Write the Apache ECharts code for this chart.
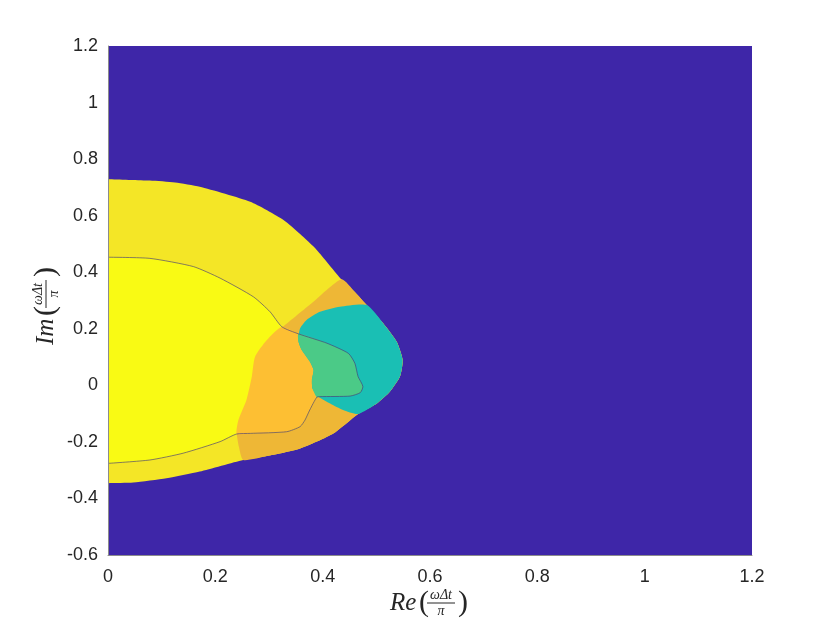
<!DOCTYPE html>
<html>
<head>
<meta charset="utf-8">
<script src="https://cdn.jsdelivr.net/npm/echarts@6/dist/echarts.min.js"></script>
<style>
  html, body { margin: 0; padding: 0; background: #fff; }
  #chart { width: 830px; height: 624px; }
</style>
</head>
<body>
<div id="chart"></div>
<script>
// axis ticks
const xTicks = [0, 0.2, 0.4, 0.6, 0.8, 1, 1.2]
const yTicks = [-0.6, -0.4, -0.2, 0, 0.2, 0.4, 0.6, 0.8, 1, 1.2]

// region boundaries, [Re, Im]
const bgRegion = [[0, -0.6], [1.2, -0.6], [1.2, 1.2], [0, 1.2]]

// outer envelope (light yellow band)
const envelope = [
  [0, 0.729], [0.078, 0.724], [0.125, 0.717], [0.171, 0.702], [0.265, 0.649], [0.327, 0.585],
  [0.358, 0.535], [0.389, 0.479], [0.435, 0.375], [0.460, 0.330], [0.482, 0.284],
  [0.513, 0.219], [0.538, 0.154], [0.549, 0.090], [0.544, 0.031], [0.525, -0.023],
  [0.501, -0.064], [0.466, -0.101], [0.420, -0.170], [0.358, -0.223], [0.296, -0.250],
  [0.252, -0.264], [0.171, -0.305], [0.109, -0.329], [0.047, -0.344], [0, -0.346],
  [-0.02, -0.346], [-0.02, 0.729]
]

// darker orange part of the envelope
const orangeOuter = [
  [0.435, 0.375], [0.460, 0.330], [0.482, 0.284], [0.513, 0.219], [0.538, 0.154],
  [0.549, 0.090], [0.544, 0.031], [0.525, -0.023], [0.501, -0.064], [0.466, -0.101],
  [0.420, -0.170], [0.358, -0.223], [0.296, -0.250], [0.252, -0.264], [0.244, -0.218],
  [0.240, -0.170], [0.243, -0.123], [0.258, -0.052], [0.268, 0.031], [0.274, 0.101],
  [0.296, 0.160], [0.326, 0.207], [0.380, 0.291]
]

// inner contour (thin line)
const contour = [
  [0, 0.453], [0.078, 0.449], [0.159, 0.420], [0.209, 0.379], [0.271, 0.313], [0.302, 0.260],
  [0.324, 0.207], [0.355, 0.182], [0.408, 0.149], [0.448, 0.113], [0.460, 0.078],
  [0.466, 0.031], [0.475, -0.005], [0.470, -0.026], [0.451, -0.038], [0.395, -0.040],
  [0.389, -0.042], [0.376, -0.087], [0.367, -0.123], [0.358, -0.146], [0.333, -0.164],
  [0.265, -0.170], [0.240, -0.172], [0.209, -0.199], [0.140, -0.240], [0.078, -0.264],
  [0, -0.276]
]
const contourClosing = [[-0.02, -0.276], [-0.02, 0.453]]

// light orange: inside contour, right of the yellow/orange edge
const orangeInner = [
  [0.324, 0.207], [0.355, 0.182], [0.408, 0.149], [0.448, 0.113], [0.460, 0.078],
  [0.466, 0.031], [0.475, -0.005], [0.470, -0.026], [0.451, -0.038], [0.395, -0.040],
  [0.389, -0.042], [0.376, -0.087], [0.367, -0.123], [0.358, -0.146], [0.333, -0.164],
  [0.265, -0.170], [0.240, -0.172], [0.243, -0.123], [0.258, -0.052], [0.268, 0.031],
  [0.274, 0.101], [0.296, 0.160]
]

// teal blob
const teal = [
  [0.355, 0.172], [0.358, 0.202], [0.370, 0.231], [0.395, 0.260], [0.432, 0.278],
  [0.482, 0.284], [0.513, 0.219], [0.538, 0.154], [0.549, 0.090], [0.544, 0.031],
  [0.525, -0.023], [0.501, -0.064], [0.466, -0.101], [0.438, -0.087], [0.414, -0.064],
  [0.392, -0.040], [0.381, -0.011], [0.380, 0.019], [0.383, 0.054], [0.376, 0.084],
  [0.361, 0.125], [0.355, 0.154]
]

// green: teal inside the contour
const green = [
  [0.355, 0.182], [0.408, 0.149], [0.448, 0.113], [0.460, 0.078], [0.466, 0.031],
  [0.475, -0.005], [0.470, -0.026], [0.451, -0.038], [0.395, -0.040], [0.389, -0.042],
  [0.381, -0.011], [0.380, 0.019], [0.383, 0.054], [0.376, 0.084], [0.361, 0.125],
  [0.355, 0.154]
]

const chart = echarts.init(document.getElementById('chart'))

const polySeries = (pts, color, smooth) => ({
  type: 'custom',
  data: pts,
  encode: { x: 0, y: 1 },
  silent: true,
  clip: true,
  renderItem: (params, api) => {
    if (params.dataIndex !== 0) return null
    return {
      type: 'polygon',
      shape: { points: pts.map((p) => api.coord(p)), smooth: smooth },
      style: { fill: color, stroke: null },
    }
  },
})

const labelFont = {
  color: '#262626',
  fontSize: 18,
  fontFamily: 'Liberation Sans, Arial, sans-serif',
}

// latex-like axis title: prefix( num/den )
const mathTitle = (prefix) => [
  { type: 'text', x: 0, y: 0, style: { text: prefix, font: 'italic 25px "Liberation Serif", serif', fill: '#262626', verticalAlign: 'middle' } },
  { type: 'text', x: 29, y: 0, style: { text: '(', font: '30px "Liberation Serif", serif', fill: '#262626', verticalAlign: 'middle' } },
  { type: 'text', x: 51, y: -8, style: { text: 'ωΔt', font: 'italic 14px "Liberation Serif", serif', fill: '#262626', align: 'center', verticalAlign: 'middle' } },
  { type: 'line', shape: { x1: 37, y1: 0, x2: 65, y2: 0 }, style: { stroke: '#262626', lineWidth: 1 } },
  { type: 'text', x: 51, y: 8, style: { text: 'π', font: 'italic 14px "Liberation Serif", serif', fill: '#262626', align: 'center', verticalAlign: 'middle' } },
  { type: 'text', x: 68, y: 0, style: { text: ')', font: '30px "Liberation Serif", serif', fill: '#262626', verticalAlign: 'middle' } },
]

const option = {
  backgroundColor: '#ffffff',
  animation: false,
  grid: { left: 108, right: 78, top: 46, bottom: 69 },
  xAxis: {
    type: 'value',
    min: xTicks[0],
    max: xTicks[xTicks.length - 1],
    interval: 0.2,
    z: 10,
    axisLine: { show: true, onZero: false, lineStyle: { color: '#8c8c8c', width: 1 } },
    axisTick: { show: false },
    splitLine: { show: false },
    axisLabel: { ...labelFont, margin: 13 },
  },
  yAxis: {
    type: 'value',
    min: yTicks[0],
    max: yTicks[yTicks.length - 1],
    interval: 0.2,
    z: 10,
    axisLine: { show: true, onZero: false, lineStyle: { color: '#8c8c8c', width: 1 } },
    axisTick: { show: false },
    splitLine: { show: false },
    axisLabel: { ...labelFont, margin: 10 },
  },
  graphic: [
    { type: 'group', x: 390, y: 603, children: mathTitle('Re') },
    { type: 'group', x: 46, y: 345, rotation: Math.PI / 2, children: mathTitle('Im') },
  ],
  series: [
    polySeries(bgRegion, '#3E26A8', 0),
    polySeries(envelope, '#F4E626', 0.2),
    polySeries(orangeOuter, '#EEB736', 0.2),
    polySeries([...contour, ...contourClosing], '#F9FA14', 0.2),
    polySeries(orangeInner, '#FDBF33', 0.2),
    polySeries(teal, '#1ABFB4', 0.2),
    polySeries(green, '#4BCA87', 0.2),
    {
      type: 'line',
      data: contour,
      symbol: 'none',
      smooth: 0.2,
      silent: true,
      lineStyle: { color: 'rgba(70,60,120,0.65)', width: 1 },
    },
  ],
}

option && chart.setOption(option)
</script>
</body>
</html>
